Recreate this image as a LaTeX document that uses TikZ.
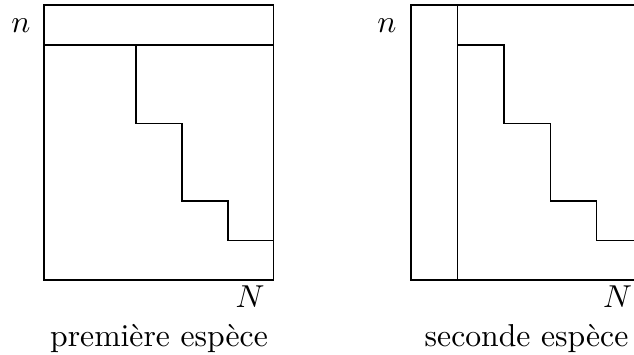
\documentclass[tikz,border=0pt]{standalone}
\begin{document}
\begin{tikzpicture}[x=0.3155pt,y=-0.3155pt,
  frame/.style={draw=black,line width=0.4pt},
  lbl/.style={inner sep=0pt,anchor=base}]
\useasboundingbox (0,0) rectangle (634,354);
% première espèce
\draw[frame] (44,5) rectangle (273.5,280);
\draw[frame] (44,45) -- (273.5,45);
\draw[frame] (136,45) -- (136,123.5) -- (182,123.5) -- (182,201) -- (228,201) -- (228,240.5) -- (273.5,240.5);
\node[lbl] (n1) at (21,33) {$n$};
\node[lbl] (N1) at (250,307) {$N$};
\node[lbl] (c1) at (159,346) {première espèce};
% seconde espèce
\begin{scope}
\clip (0,0) rectangle (634,354);
\draw[frame] (411,5) rectangle (640.5,280);
\draw[frame] (457.5,5) -- (457.5,280);
\draw[frame] (457.5,45) -- (504,45) -- (504,123.5) -- (550.5,123.5) -- (550.5,201) -- (596.5,201) -- (596.5,240.5) -- (640.5,240.5);
\end{scope}
\node[lbl] (n2) at (387,33) {$n$};
\node[lbl] (N2) at (617.5,307) {$N$};
\node[lbl] (c2) at (526.5,346) {seconde espèce};
\end{tikzpicture}
\end{document}
